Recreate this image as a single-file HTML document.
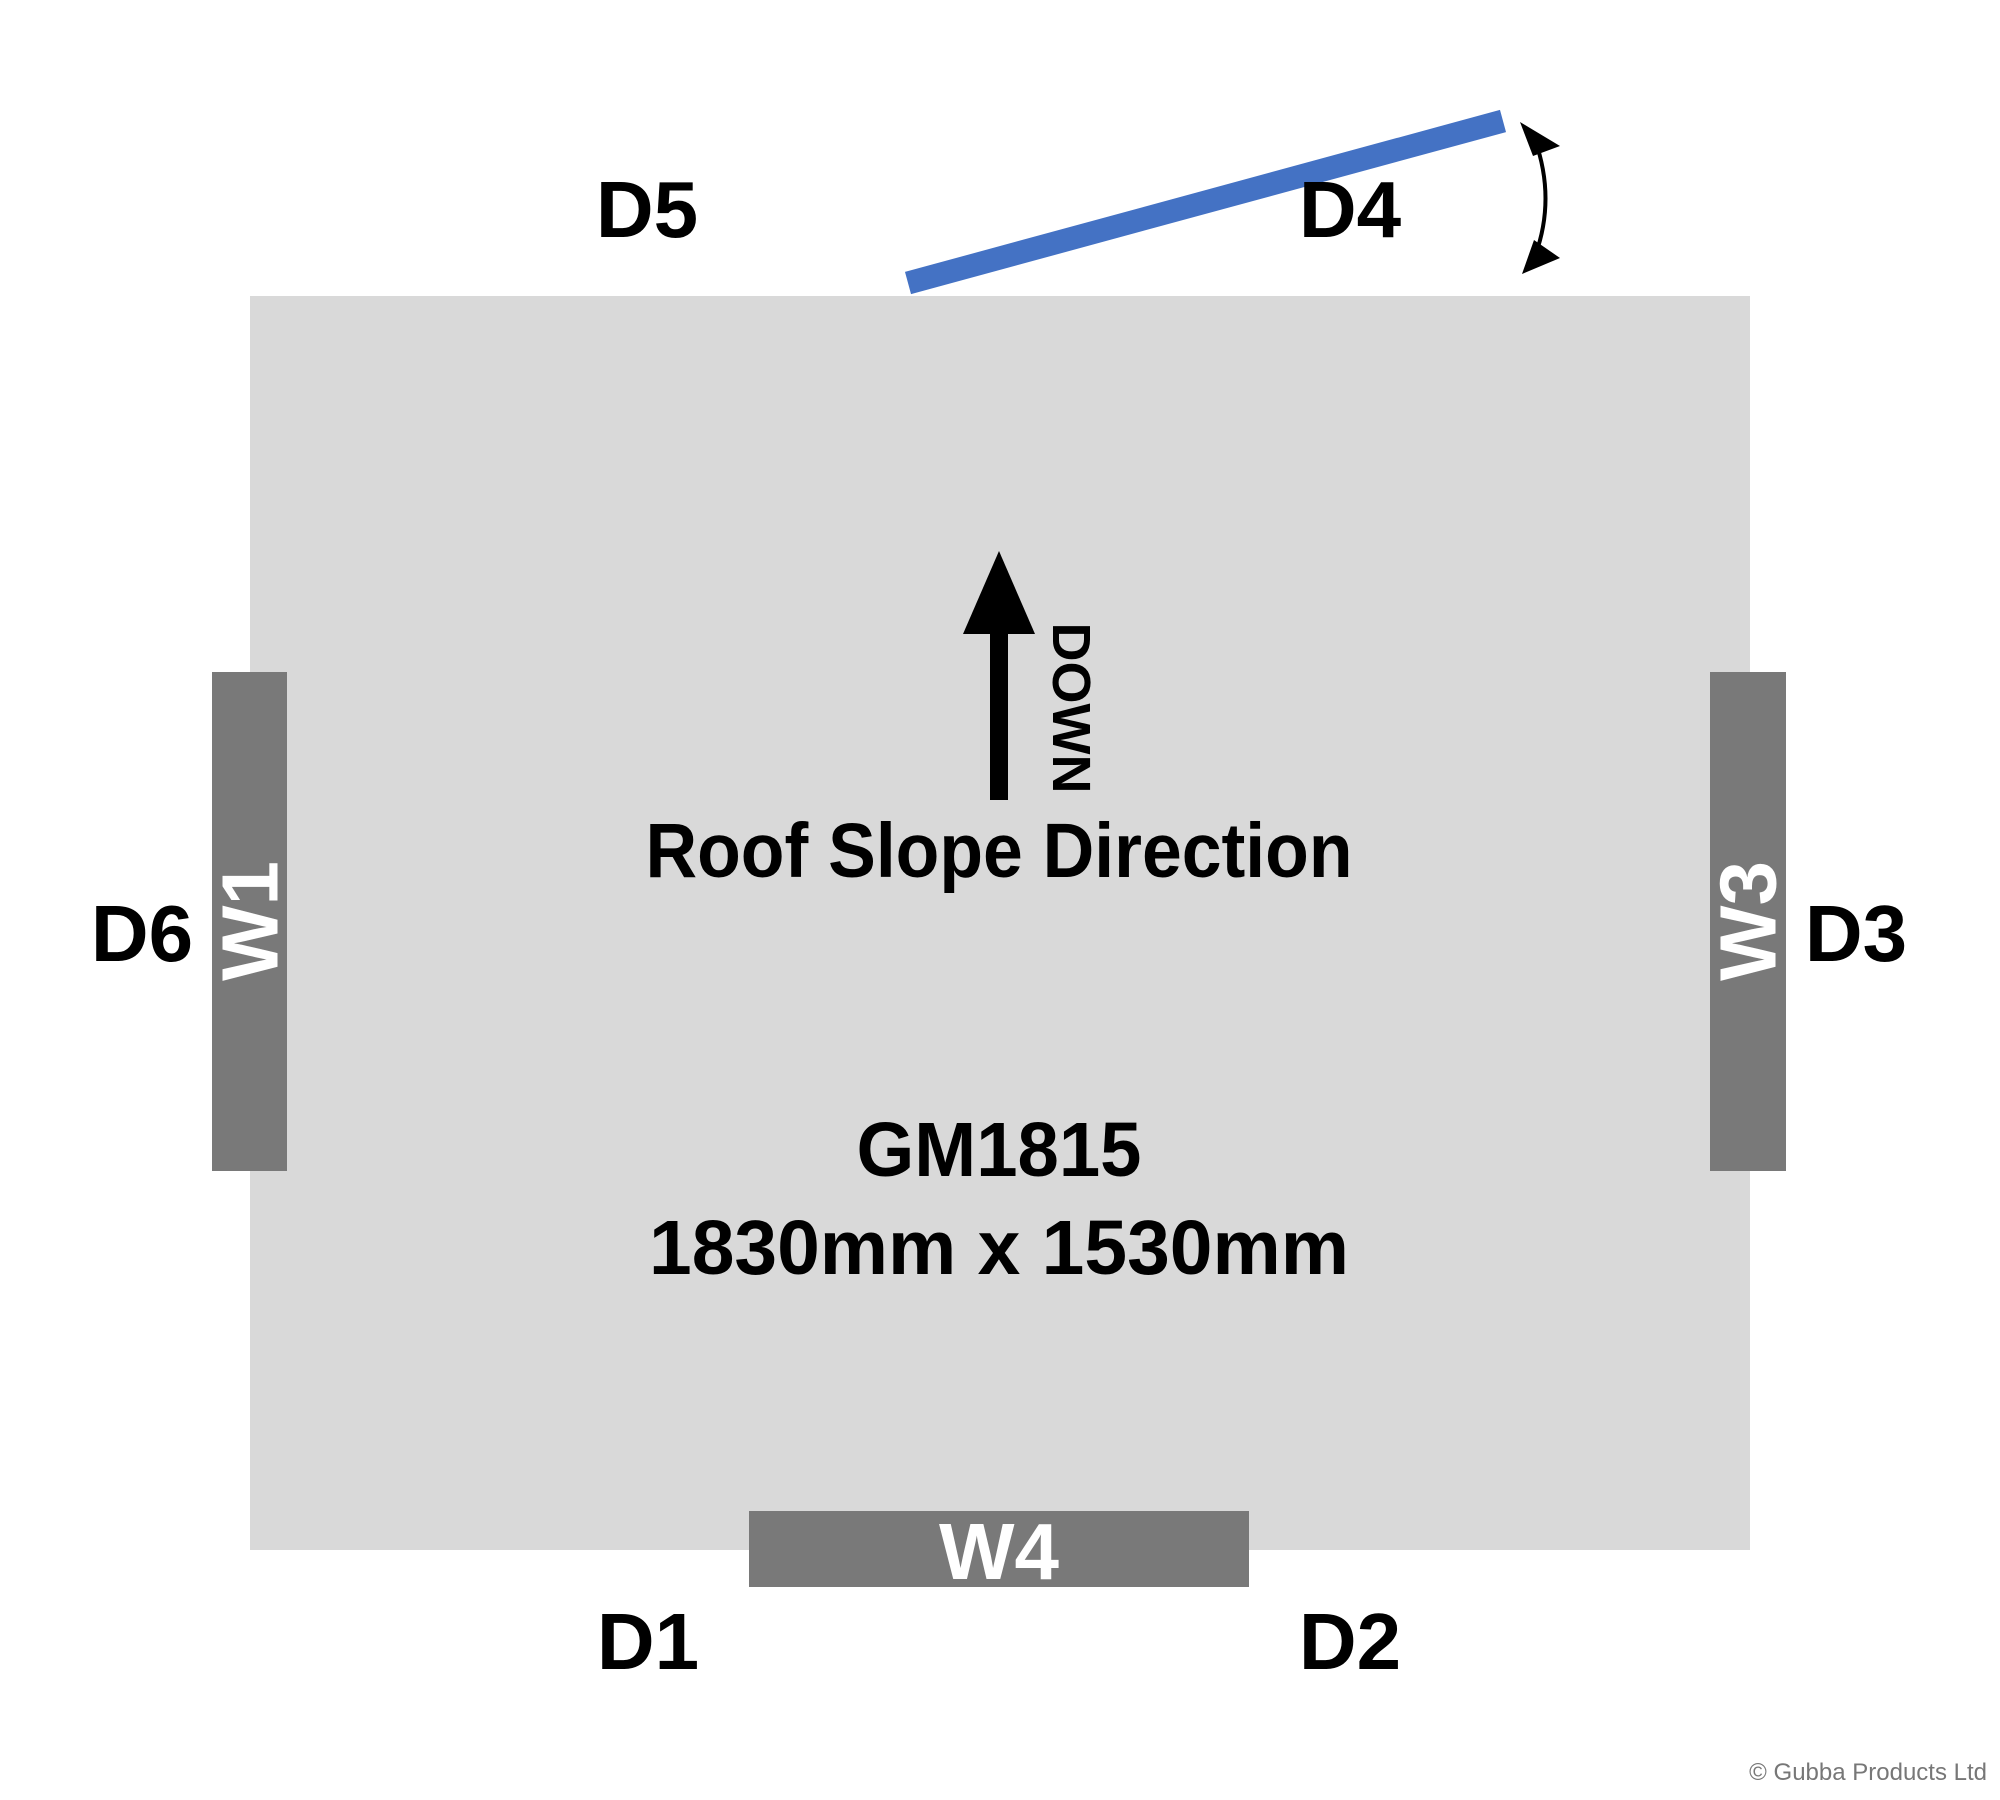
<!DOCTYPE html>
<html><head><meta charset="utf-8"><style>
html,body{margin:0;padding:0;background:#fff;width:2000px;height:1800px;overflow:hidden}
svg text{font-family:"Liberation Sans",sans-serif}
</style></head><body>
<svg width="2000" height="1800" viewBox="0 0 2000 1800" xmlns="http://www.w3.org/2000/svg">
<rect x="250" y="296" width="1500" height="1254" fill="#d9d9d9"/>
<rect x="212" y="672" width="75" height="499" fill="#797979"/>
<rect x="1710" y="672" width="76" height="499" fill="#797979"/>
<rect x="749" y="1511" width="500" height="76" fill="#797979"/>
<line x1="908" y1="283" x2="1503" y2="121" stroke="#4472c4" stroke-width="23"/>
<path d="M1535 140 Q1556 199 1535 256" fill="none" stroke="#000" stroke-width="4"/>
<polygon points="1520,122 1560,146 1533,156" fill="#000"/>
<polygon points="1522,274 1560,258 1534,240" fill="#000"/>
<rect x="990" y="620" width="18" height="180" fill="#000"/>
<polygon points="999,551 963,634 1035,634" fill="#000"/>
<text transform="translate(1071,708) rotate(90)" text-anchor="middle" dominant-baseline="central" font-size="54" font-weight="bold">DOWN</text>
<g font-weight="bold" text-anchor="middle" fill="#000">
<text x="999" y="877" font-size="77" textLength="707" lengthAdjust="spacingAndGlyphs">Roof Slope Direction</text>
<text x="999" y="1176" font-size="77" textLength="285" lengthAdjust="spacingAndGlyphs">GM1815</text>
<text x="999" y="1274" font-size="77" textLength="700" lengthAdjust="spacingAndGlyphs">1830mm x 1530mm</text>
<g font-size="80">
<text x="647" y="237">D5</text>
<text x="1350" y="237">D4</text>
<text x="142" y="961">D6</text>
<text x="1856" y="961">D3</text>
<text x="648" y="1669">D1</text>
<text x="1350" y="1669">D2</text>
</g>
<g fill="#fff" font-size="80">
<text transform="translate(250,921) rotate(-90)" dominant-baseline="central">W1</text>
<text transform="translate(1748,921) rotate(-90)" dominant-baseline="central">W3</text>
<text x="999" y="1579">W4</text>
</g>
</g>
<text x="1987" y="1780" text-anchor="end" font-size="24" fill="#777">© Gubba Products Ltd</text>
</svg>
</body></html>
